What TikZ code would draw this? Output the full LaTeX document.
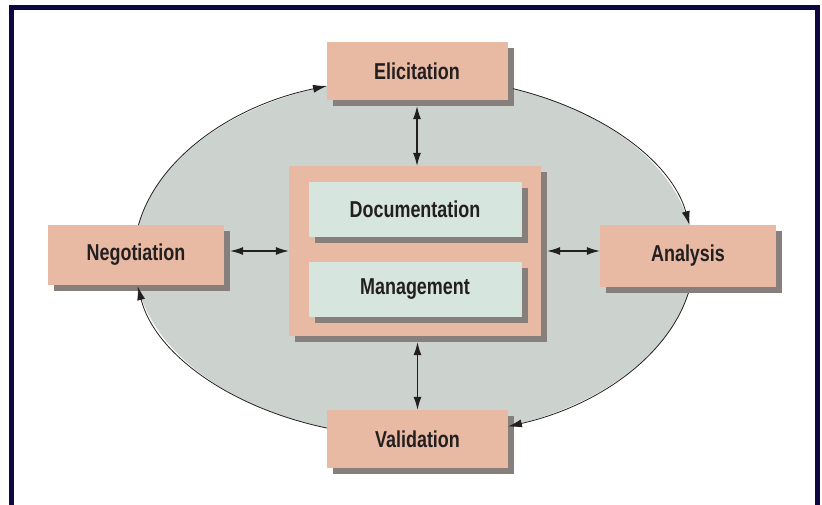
\documentclass[tikz,border=0pt]{standalone}
\usepackage{fontspec}
\usepackage{xcolor}
\usetikzlibrary{positioning,arrows.meta,shadows}
\newfontfamily\boxfont{Liberation Sans}[FakeStretch=0.78]

\definecolor{salmon}{HTML}{E8BAA4}
\definecolor{mint}{HTML}{D6E5DD}
\definecolor{ringgrey}{HTML}{CCD3CF}
\definecolor{shadowgrey}{HTML}{877F7B}
\definecolor{framenavy}{HTML}{0D0840}
\definecolor{inkdark}{HTML}{231F20}

\begin{document}
\begin{tikzpicture}[x=1pt, y=-1pt,
  stage/.style={fill=salmon, inner sep=0pt, text=inkdark,
    font=\boxfont\bfseries\fontsize{23}{26}\selectfont,
    drop shadow={shadow xshift=6pt, shadow yshift=-6pt, fill=shadowgrey, opacity=1}},
  task/.style={stage, fill=mint, minimum width=213pt, minimum height=55pt},
  cyc/.style={draw=inkdark, line width=0.8pt, -{Latex[length=14pt,width=8pt]}},
  dbl/.style={draw=inkdark, line width=1.1pt, {Latex[length=13pt,width=8pt]}-{Latex[length=13pt,width=8pt]}}]
  \useasboundingbox (0,0) rectangle (822,505);

  % Frame, open at the bottom
  \draw[framenavy, line width=5pt] (11.5,505) -- (11.5,7.5) -- (817.5,7.5) -- (817.5,505);

  % Ring behind the stages
  \coordinate (ring) at (414,257);
  \fill[ringgrey] (ring) ellipse [x radius=280, y radius=180];

  % Stages round the ring
  \node[stage, minimum width=181pt, minimum height=58pt] (elic) at (417,71) {Elicitation};
  \node[stage, minimum width=176pt, minimum height=62pt] (ana) at (688,256) {Analysis};
  \node[stage, minimum width=181pt, minimum height=58pt] (val) at (417.5,439) {Validation};
  \node[stage, minimum width=176pt, minimum height=60pt] (neg) at (136,255) {Negotiation};

  % Core: documentation and management
  \node[stage, minimum width=252pt, minimum height=170pt] (core) at (415,251) {};
  \node[task] (doc) at (415,209.5) {Documentation};
  \node[task] (man) at (415,289.5) {Management};

  % Cycle along the ring
  \draw[cyc] (ring) ++(190.2:280 and 180) arc[start angle=190.2, end angle=251.9, x radius=280, y radius=180];
  \draw[cyc] (ring) ++(290.7:280 and 180) arc[start angle=290.7, end angle=349.8, x radius=280, y radius=180];
  \draw[cyc] (ring) ++(11.5:280 and 180) arc[start angle=11.5, end angle=70.4, x radius=280, y radius=180];
  \draw[cyc] (ring) ++(108.1:280 and 180) arc[start angle=108.1, end angle=170.7, x radius=280, y radius=180];

  % Links to the core
  \draw[dbl] ([yshift=-6pt]elic.south) -- (elic.south |- core.north);
  \draw[dbl] ([yshift=-6pt]core.south -| val.north) -- (val.north);
  \draw[dbl] ([xshift=6pt]neg.east |- core.west) -- (core.west);
  \draw[dbl] ([xshift=6pt]core.east) -- (core.east -| ana.west);
\end{tikzpicture}
\end{document}
